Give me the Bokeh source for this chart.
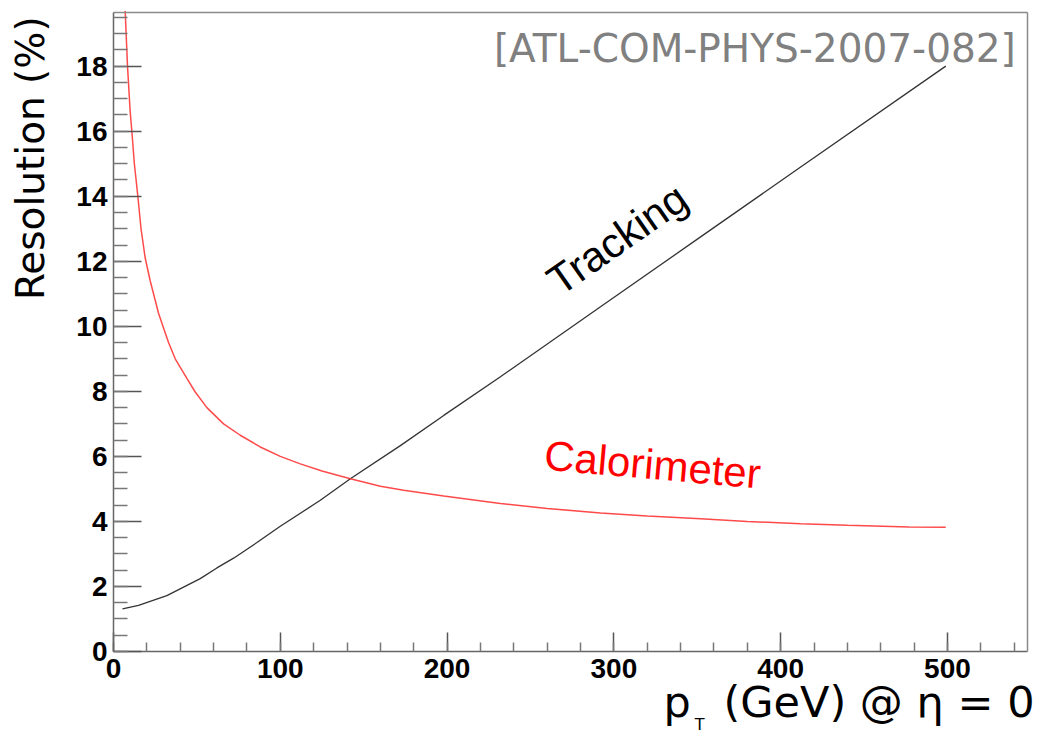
from bokeh.plotting import figure
from bokeh.models import Range1d, Label, SingleIntervalTicker, FixedTicker, LinearAxis
from bokeh.embed import file_html
from bokeh.resources import INLINE

# Relative pT resolution (%) versus pT (GeV) at eta = 0
calo_pt = [7.0, 8.4, 10.0, 11.0, 12.5, 14.6, 16.5, 19.0, 22.0, 25.0, 27.0, 30.0,
           33.0, 37.0, 44.0, 49.0, 56.0, 66.0, 76.0, 88.0, 100.0, 112.0, 125.0,
           142.0, 160.0, 174.0, 198.0, 232.0, 260.0, 292.0, 320.0, 352.0, 380.0,
           412.0, 440.0, 477.0, 499.0]
calo_res = [19.7, 18.0, 16.6, 16.0, 15.0, 14.0, 13.0, 12.1, 11.4, 10.8, 10.4, 9.95,
            9.5, 9.0, 8.4, 7.98, 7.5, 7.0, 6.65, 6.29, 6.0, 5.77, 5.55,
            5.31, 5.08, 4.96, 4.78, 4.55, 4.4, 4.26, 4.17, 4.08, 4.0,
            3.93, 3.88, 3.83, 3.82]

track_pt = [5.4, 15.0, 32.0, 42.0, 52.0, 62.0, 72.0, 86.0, 100.0, 124.0, 142.0,
            172.0, 198.0, 232.0, 292.0, 352.0, 412.0, 499.0]
track_res = [1.31, 1.42, 1.72, 1.98, 2.24, 2.57, 2.87, 3.35, 3.85, 4.65, 5.31,
             6.33, 7.26, 8.45, 10.6, 12.75, 14.9, 18.0]

x_max = 548
y_max = 19.65

# Canvas and the box that holds the axes (pixels)
W, H = 1038, 737
box_left, box_right, box_top, box_bottom = 113, 1027, 12, 651

# The data ranges are widened so that the titles and annotations around the
# axes box are drawn inside the canvas; the axes themselves are pinned to the box.
kx = (box_right - box_left) / x_max
ky = (box_bottom - box_top) / y_max
x_range = Range1d(-box_left / kx, (W - box_left) / kx)
y_range = Range1d(-(H - box_bottom) / ky, box_bottom / ky)

p = figure(width=W, height=H, output_backend="svg", toolbar_location=None,
           x_range=x_range, y_range=y_range,
           min_border_left=0, min_border_right=0,
           min_border_top=0, min_border_bottom=0)

p.xgrid.visible = False
p.ygrid.visible = False
p.outline_line_color = None
p.background_fill_color = "white"
p.border_fill_color = "white"

p.xaxis.ticker = SingleIntervalTicker(interval=100, num_minor_ticks=5)
p.yaxis.ticker = SingleIntervalTicker(interval=2, num_minor_ticks=4)
p.xaxis.fixed_location = 0
p.yaxis.fixed_location = 0
p.xaxis.bounds = (0, x_max)
p.yaxis.bounds = (0, y_max)

for ax, maj, mnr, stand in ((p.xaxis, 19, 9, 7), (p.yaxis, 28, 14, 6)):
    ax.major_tick_in = maj
    ax.major_tick_out = 0
    ax.minor_tick_in = mnr
    ax.minor_tick_out = 0
    ax.major_tick_line_color = "#555555"
    ax.minor_tick_line_color = "#777777"
    ax.major_tick_line_width = 1.5
    ax.minor_tick_line_width = 1.5
    ax.axis_line_color = "#666666"
    ax.axis_line_width = 1.5
    ax.major_label_text_font = "Liberation Sans"
    ax.major_label_text_font_style = "bold"
    ax.major_label_text_font_size = "28px"
    ax.major_label_text_color = "black"
    ax.major_label_standoff = stand

# top and right edges of the axes box
top_edge = LinearAxis(fixed_location=y_max, bounds=(0, x_max), ticker=FixedTicker(ticks=[]),
                      axis_line_color="#8a8a8a", axis_line_width=1.5,
                      major_tick_in=0, major_tick_out=0, minor_tick_in=0, minor_tick_out=0,
                      major_label_text_font_size="0px")
right_edge = LinearAxis(fixed_location=x_max, bounds=(0, y_max), ticker=FixedTicker(ticks=[]),
                        axis_line_color="#8a8a8a", axis_line_width=1.5,
                        major_tick_in=0, major_tick_out=0, minor_tick_in=0, minor_tick_out=0,
                        major_label_text_font_size="0px")
p.add_layout(top_edge, "above")
p.add_layout(right_edge, "right")

p.line(track_pt, track_res, line_color="#333333", line_width=1.3)
p.line(calo_pt, calo_res, line_color="#ff2a2a", line_width=1.5, line_alpha=0.85)

p.add_layout(Label(x=541, y=19.25, text="[ATL-COM-PHYS-2007-082]",
                   text_align="right", text_baseline="top",
                   text_color="#808080", text_font="DejaVu Sans",
                   text_font_size="39px"))

p.add_layout(Label(x=270.9, y=10.68, angle=35, angle_units="deg",
                   text="Tracking", text_color="black",
                   text_font="Liberation Sans", text_font_size="42px"))

p.add_layout(Label(x=257.2, y=5.32, angle=-5, angle_units="deg",
                   text="Calorimeter", text_color="red",
                   text_font="Liberation Sans", text_font_size="42px"))

# axis titles at the ends of the axes
p.add_layout(Label(x=-49.8, y=19.53, angle=90, angle_units="deg",
                   text="Resolution (%)", text_align="right",
                   text_baseline="alphabetic", text_color="black",
                   text_font="DejaVu Sans", text_font_size="39px"))

p.add_layout(Label(x=329.8, y=-2.337, text="p", text_color="black",
                   text_font="DejaVu Sans", text_font_size="43px"))
p.add_layout(Label(x=348.5, y=-2.55, text="T", text_color="black",
                   text_font="DejaVu Sans", text_font_size="16px"))
p.add_layout(Label(x=552.2, y=-2.337, text="(GeV) @ η = 0", text_align="right",
                   text_color="black", text_font="DejaVu Sans",
                   text_font_size="43px"))

open("out.html", "w").write(file_html(p, INLINE))
